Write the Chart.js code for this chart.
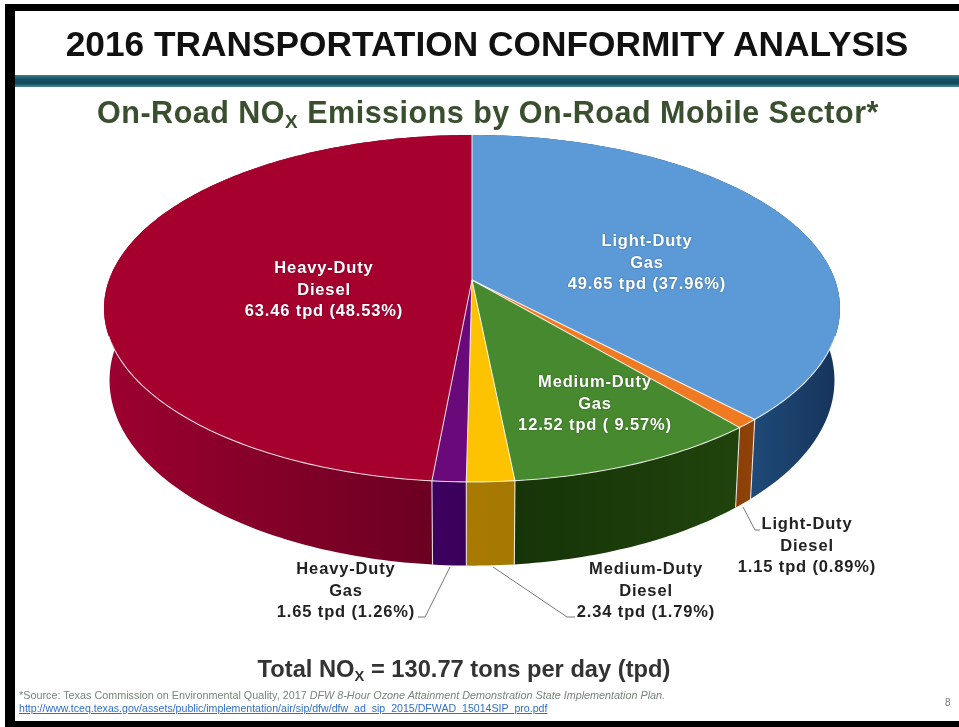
<!DOCTYPE html>
<html>
<head>
<meta charset="utf-8">
<title>2016 Transportation Conformity Analysis</title>
<script src="https://cdn.jsdelivr.net/npm/chart.js@4/dist/chart.umd.min.js"></script>
<style>
  html, body { margin: 0; padding: 0; background: #fff; }
  #slide { position: relative; width: 959px; height: 727px; overflow: hidden; background: #fff; font-family: "Liberation Sans", Arial, sans-serif; filter: blur(0.5px); }
  #marksChart { position: absolute; left: 0; top: 0; }
  .frame { position: absolute; background: #000; }
  .txt { position: absolute; font-weight: bold; white-space: pre; text-align: center; }
  sub { font-size: 62%; line-height: 0; vertical-align: -0.28em; font-weight: bold; }
  .pieLabel { font-size: 16.5px; letter-spacing: 0.85px; line-height: 21.5px; width: 240px; }
  .inside { color: #fff; text-shadow: 0 0 2px rgba(0,0,0,0.35); }
  .outside { color: #222; }
</style>
</head>
<body>
<div id="slide">
  <canvas id="marksChart" width="959" height="727"></canvas>
  <div class="frame" style="left:5px;top:4px;width:954px;height:7px"></div>
  <div class="frame" style="left:5px;top:4px;width:10px;height:723px"></div>
  <div class="frame" style="left:5px;top:721px;width:954px;height:6px"></div>
  <div style="position:absolute;left:15px;top:75px;width:944px;height:12px;background:linear-gradient(#3f7f8a,#135065 35%,#134a5e 70%,#4a8a96)"></div>
  <div class="txt" style="left:0;width:974px;top:24px;font-size:35.3px;line-height:40px;color:#111">2016 TRANSPORTATION CONFORMITY ANALYSIS</div>
  <div class="txt" style="left:0;width:976px;top:95px;font-size:30.5px;line-height:34px;color:#3a4f2f;letter-spacing:0.5px">On-Road NO<sub>X</sub> Emissions by On-Road Mobile Sector*</div>
  <div class="txt" style="left:0;width:928px;top:655px;font-size:23.7px;line-height:28px;color:#333">Total NO<sub>X</sub> = 130.77 tons per day (tpd)</div>
  <div style="position:absolute;left:19px;top:690px;font-size:10.8px;line-height:11px;color:#77857c;white-space:pre">*Source: Texas Commission on Environmental Quality, 2017 <i>DFW 8-Hour Ozone Attainment Demonstration State Implementation Plan.</i></div>
  <div style="position:absolute;left:19px;top:703px;font-size:10.6px;line-height:11px;color:#2f6fc4;text-decoration:underline;white-space:pre">http://www.tceq.texas.gov/assets/public/implementation/air/sip/dfw/dfw_ad_sip_2015/DFWAD_15014SIP_pro.pdf</div>
  <div style="position:absolute;left:945px;top:697px;font-size:10px;line-height:12px;color:#777">8</div>
</div>
<script>
// values as printed on the slide, clockwise from 12 o'clock
var categories = ["Light-Duty Gas", "Light-Duty Diesel", "Medium-Duty Gas", "Medium-Duty Diesel", "Heavy-Duty Gas", "Heavy-Duty Diesel"];
var tonsPerDay = [49.65, 1.15, 12.52, 2.34, 1.65, 63.46];
var percentShare = ["37.96", "0.89", " 9.57", "1.79", "1.26", "48.53"];

var topColors = ["#5b9ad6", "#f07a22", "#47892f", "#fdc200", "#6a0a7a", "#a6002f"];
var wallColors = [
  ["#16335a", "#1f4a78"],
  ["#8a3f08", "#8f4208"],
  ["#163408", "#20430c"],
  ["#a87a00", "#a57800"],
  ["#3d0060", "#3a0058"],
  ["#9c0030", "#6c0022"]
];

// where each label sits: centre x, top y
var labelBoxes = [
  { x: 647, y: 230, cls: "inside" },
  { x: 807, y: 513, cls: "outside" },
  { x: 595, y: 371, cls: "inside" },
  { x: 646, y: 558, cls: "outside" },
  { x: 346, y: 558, cls: "outside" },
  { x: 324, y: 257, cls: "inside" }
];

var leaders = [
  [[743, 507], [755, 530], [760, 530]],
  [[493, 567], [567, 617], [575, 617]],
  [[450, 567], [425, 617], [418, 617]]
];

// perspective of the tilted disc, fitted to the picture
var pieView = { cx: 472, cy: 280, rx: 363, ry: 168.8, tilt: 0.164, depth: 70, baseShrink: 0.985 };

function project(angle, radius, isBase) {
  var u = radius * Math.cos(angle);
  var v = radius * Math.sin(angle);
  var f = 1 / (1 - pieView.tilt * v);
  var x = pieView.rx * u * f;
  var y = pieView.cy + pieView.ry * v * f;
  if (isBase) {
    x = x * pieView.baseShrink;
    y = y + pieView.depth * f;
  }
  return { x: pieView.cx + x, y: y };
}

function tracePath(ctx, a0, a1, isBase, first) {
  var n = Math.max(2, Math.ceil(Math.abs(a1 - a0) * 60));
  for (var i = 0; i <= n; i++) {
    var p = project(a0 + (a1 - a0) * i / n, 1, isBase);
    if (first && i == 0) ctx.moveTo(p.x, p.y);
    else ctx.lineTo(p.x, p.y);
  }
}

var tiltedPie = {
  id: "tiltedPie",
  // the arcs are laid out by Chart.js, this only draws them with the slide's tilt
  beforeDatasetsDraw: function (chart) {
    var ctx = chart.ctx;
    var arcs = chart.getDatasetMeta(0).data;
    ctx.save();

    // side walls
    arcs.forEach(function (arc, i) {
      var x0 = project(arc.startAngle, 1, true).x;
      var x1 = project(arc.endAngle, 1, true).x;
      if (i == 0) { x0 = 752; x1 = 840; }
      if (i == 5) { x0 = 105; x1 = 432; }
      var grad = ctx.createLinearGradient(Math.min(x0, x1), 0, Math.max(x0, x1), 0);
      if (i == 0) { grad.addColorStop(0, wallColors[i][1]); grad.addColorStop(1, wallColors[i][0]); }
      else { grad.addColorStop(0, wallColors[i][0]); grad.addColorStop(1, wallColors[i][1]); }
      ctx.beginPath();
      tracePath(ctx, arc.startAngle, arc.endAngle, false, true);
      tracePath(ctx, arc.endAngle, arc.startAngle, true, false);
      ctx.closePath();
      ctx.fillStyle = grad;
      ctx.fill();
    });

    // top faces
    arcs.forEach(function (arc, i) {
      var c = project(0, 0, false);
      ctx.beginPath();
      ctx.moveTo(c.x, c.y);
      tracePath(ctx, arc.startAngle, arc.endAngle, false, false);
      ctx.closePath();
      ctx.fillStyle = topColors[i];
      ctx.fill();
    });

    // white seams on the top and down the front of the wall
    ctx.strokeStyle = "rgba(255,255,255,0.8)";
    ctx.lineWidth = 1.1;
    arcs.forEach(function (arc) {
      var c = project(0, 0, false);
      var p = project(arc.endAngle, 1, false);
      ctx.beginPath();
      ctx.moveTo(c.x, c.y);
      ctx.lineTo(p.x, p.y);
      if (Math.sin(arc.endAngle) > 0.5) {
        var b = project(arc.endAngle, 1, true);
        ctx.lineTo(b.x, b.y);
      }
      ctx.stroke();
    });
    ctx.beginPath();
    tracePath(ctx, 0.32, Math.PI - 0.32, false, true);
    ctx.stroke();

    // leader lines to the outside labels
    ctx.strokeStyle = "#777";
    ctx.lineWidth = 1;
    leaders.forEach(function (pts) {
      ctx.beginPath();
      pts.forEach(function (pt, i) {
        if (i == 0) ctx.moveTo(pt[0], pt[1]);
        else ctx.lineTo(pt[0], pt[1]);
      });
      ctx.stroke();
    });

    ctx.restore();
    return false;
  }
};

var ctx = document.getElementById("marksChart");
var marksChart = new Chart(ctx, {
  type: "pie",
  data: {
    labels: categories,
    datasets: [{ data: tonsPerDay, backgroundColor: topColors, borderWidth: 0 }]
  },
  options: {
    responsive: false,
    animation: false,
    events: [],
    plugins: { legend: { display: false }, tooltip: { enabled: false } }
  },
  plugins: [tiltedPie]
});

// slice labels
var slide = document.getElementById("slide");
categories.forEach(function (name, i) {
  var parts = name.split(" ");
  var el = document.createElement("div");
  el.className = "txt pieLabel " + labelBoxes[i].cls;
  el.style.left = (labelBoxes[i].x - 120) + "px";
  el.style.top = labelBoxes[i].y + "px";
  el.textContent = parts[0] + "\n" + parts[1] + "\n" + tonsPerDay[i].toFixed(2) + " tpd (" + percentShare[i] + "%)";
  slide.appendChild(el);
});
</script>
</body>
</html>
